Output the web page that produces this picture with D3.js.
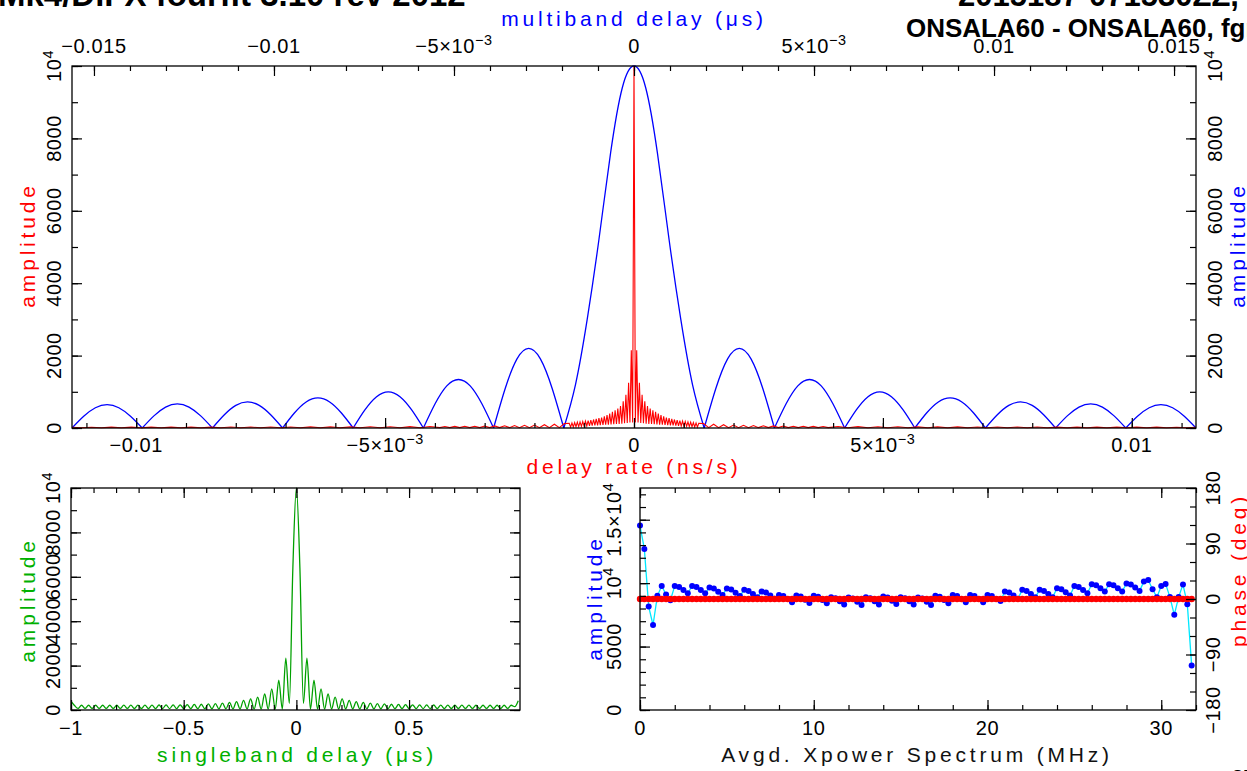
<!DOCTYPE html>
<html><head><meta charset="utf-8">
<script src="https://cdn.jsdelivr.net/npm/d3@7"></script>
<style>
body{margin:0;background:#fff;overflow:hidden}
svg{display:block}
text{font-family:"Liberation Sans",Arial,sans-serif}
</style></head><body>
<script>
// ---------------- DATA ----------------
// Top panel, blue: multiband delay (us) amplitude, lobes between nulls
const mbdNulls = [-0.01561,-0.01366,-0.01171,-0.00976,-0.00780,-0.00585,-0.00390,-0.00195,
                   0.00195,0.00390,0.00585,0.00780,0.00976,0.01171,0.01366,0.01561];
const mbdLobeAmp = [
 [0,325,560,645,560,325,0],
 [0,335,578,665,578,335,0],
 [0,360,625,720,625,360,0],
 [0,415,720,830,720,415,0],
 [0,500,865,1000,865,500,0],
 [0,670,1165,1340,1165,670,0],
 [0,1100,1910,2200,1910,1100,0],
 [0,1200,3000,5200,7600,9400,10000,9400,7600,5200,3000,1200,0],
 [0,1100,1910,2200,1910,1100,0],
 [0,670,1165,1340,1165,670,0],
 [0,500,865,1000,865,500,0],
 [0,415,720,830,720,415,0],
 [0,360,625,720,625,360,0],
 [0,335,578,665,578,335,0],
 [0,325,560,645,560,325,0]
];
// Top panel, red: delay rate (ns/s) amplitude, sampled segments
const rateFarLeft = [22,5,22,5,23,5,23,5,24,5,24,5,25,5,25,5,26,5,27,5,28,5,29,5,30,5,31,5,32,5,34,5,36,5,38,5,40];
const rateMidLeft = [10,42,10,44,10,46,10,49,10,53,10,57,10,61,10,67,10,74,10,82,10,92,10,105,10,120];
const rateInner = [130,25,140,30,150,35,160,40,170,45,180,50,190,55,205,60,220,65,235,70,250,75,270,80,290,85,320,90,360,95,400,100,450,105,490,110,540,115,610,120,740,130,920,140,1250,150,2150,150,
 10000,
 150,2150,150,1250,140,920,130,740,120,610,115,540,110,490,105,450,100,400,95,360,90,320,85,290,80,270,75,250,70,235,65,220,60,205,55,190,50,180,45,170,40,160,35,150,30,140,25,130];
const rateMidRight = [120,10,105,10,92,10,82,10,74,10,67,10,61,10,57,10,53,10,49,10,46,10,44,10,42,10];
const rateFarRight = [40,5,38,5,36,5,34,5,32,5,31,5,30,5,29,5,28,5,27,5,26,5,25,5,25,5,24,5,24,5,23,5,23,5,22,5,22];
const rateSegStart = [-0.0113,-0.0039,-0.0013008,0.0014,0.0041];
const rateSegStep  = [0.0002,0.0001,0.0000271,0.0001,0.0002];

// Bottom-left, green: singleband delay (us) amplitude, start -1 us, step 1/64 us
const sbdStart = -1, sbdStep = 0.015625;
const sbdAmp = [400,200,70,215,70,215,70,215,70,215,70,215,70,215,70,218,70,220,68,220,68,222,66,222,66,225,64,228,64,230,62,235,
 62,240,60,250,60,260,58,275,56,290,55,310,54,340,52,380,50,430,48,500,46,580,44,720,42,950,40,1350,40,2330,300,6400,
 10000,6400,300,2330,40,1350,40,950,42,720,44,580,46,500,48,430,50,380,52,340,54,310,55,290,56,275,58,260,60,250,60,240,
 62,235,62,230,64,228,64,225,66,222,66,222,68,220,68,220,70,218,70,215,70,215,70,215,70,215,70,215,70,215,150,420];

// Bottom-right: Avgd. Xpower spectrum, 128 channels, 0.25 MHz step
const chanStep = 0.25;
const xpAmp = [14540,12700,8150,6700, 9000,9780,9100,8650, 9780,9700,9460,9200, 9780,9700,9460,9200,
 9650,9570,9330,9070, 9570,9490,9250,8990, 9470,9390,9150,8890, 9340,9260,9020,8760,
 9070,8990,8750,8490, 9020,8940,8700,8440, 9000,8920,8680,8420, 8890,8810,8570,8310,
 8860,8780,8540,8280, 8890,8810,8570,8310, 8940,8860,8620,8360, 8890,8810,8570,8310,
 8860,8780,8540,8280, 9000,8920,8680,8420, 9070,8990,8750,8490, 9070,8990,8750,8490,
 9070,8990,8750,8600, 9340,9260,9020,8760, 9470,9390,9150,8890, 9470,9390,9150,8890,
 9600,9520,9280,9020, 9780,9700,9460,9200, 9920,9840,9600,9340, 9920,9840,9600,9340,
 9970,9890,9650,9390, 10120,10250,9520,8890, 9780,9940,8900,7500, 8900,9900,8340,3500];
const phaseDeg = [0,0,0,0,0,0,0,0,0,0,0,0,0,0,0,0,0,0,0,0,0,0,0,0,0,0,0,0,0,0,0,0,
 0,0,0,0,0,0,0,0,0,0,0,0,0,0,0,0,0,0,0,0,0,0,0,0,0,0,0,0,0,0,0,0,
 0,0,0,0,0,0,0,0,0,0,0,0,0,0,0,0,0,0,0,0,0,0,0,0,0,0,0,0,0,0,0,0,
 0,0,0,0,0,0,0,0,0,0,0,0,0,0,0,0,0,0,0,0,0,0,0,0,0,0,0,0,0,0,0,0];

// Ticks / labels
const rateTicks = [-0.01,-0.005,0,0.005,0.01];
const rateLabels = ["−0.01","−5×10^{−3}","0","5×10^{−3}","0.01"];
const mbdTicks = [-0.015,-0.01,-0.005,0,0.005,0.01,0.015];
const mbdLabels = ["−0.015","−0.01","−5×10^{−3}","0","5×10^{−3}","0.01","0.015"];
const ampTicks = [0,2000,4000,6000,8000,10000];
const ampLabels = ["0","2000","4000","6000","8000","10^{4}"];
const sbdTicks = [-1,-0.5,0,0.5];
const sbdLabels = ["−1","−0.5","0","0.5"];
const freqTicks = [0,10,20,30];
const freqLabels = ["0","10","20","30"];
const xpTicks = [0,5000,10000,15000];
const xpLabels = ["0","5000","10^{4}","1.5×10^{4}"];
const phaseTicks = [-180,-90,0,90,180];
const phaseLabels = ["−180","−90","0","90","180"];

// ---------------- DRAW ----------------
const W = 1247, H = 771;
const RED = "#ff0000", BLUE = "#0000ff", GREEN = "#00a000", CYAN = "#00e8ff";
const svg = d3.select("body").append("svg").attr("width", W).attr("height", H);

function addText(g, str, x, y, o = {}) {
  const size = o.size || 20;
  const t = g.append("text")
    .attr("transform", `translate(${x},${y})` + (o.rot ? ` rotate(${o.rot})` : ""))
    .attr("text-anchor", o.anchor || "middle")
    .attr("fill", o.color || "#000")
    .style("font-size", size + "px")
    .style("letter-spacing", (o.ls ?? 0.6) + "px")
    .style("font-weight", o.weight || "normal");
  const parts = str.split(/(\^\{[^}]*\})/);
  let shifted = 0;
  parts.forEach(p => {
    if (!p) return;
    const m = p.match(/^\^\{(.*)\}$/);
    if (m) {
      const d = -size * 0.42;
      t.append("tspan").attr("dy", d).style("font-size", (size * 0.72) + "px").text(m[1]);
      shifted += d;
    } else {
      const s = t.append("tspan").text(p);
      if (shifted) { s.attr("dy", -shifted); shifted = 0; }
    }
  });
  return t;
}

function ticks(axisGen, scale, vals, size, tx, ty) {
  svg.append("g").attr("transform", `translate(${tx},${ty})`)
    .call(axisGen(scale).tickValues(vals).tickSize(size).tickFormat(""))
    .call(a => { a.select(".domain").remove();
      a.selectAll("line").attr("stroke", "#000").attr("stroke-width", 1.2); });
}
function frame(x0, y0, x1, y1) {
  svg.append("rect").attr("x", x0).attr("y", y0).attr("width", x1 - x0).attr("height", y1 - y0)
    .attr("fill", "none").attr("stroke", "#000").attr("stroke-width", 1.3);
}
function clip(id, x0, y0, x1, y1) {
  svg.append("clipPath").attr("id", id).append("rect")
    .attr("x", x0).attr("y", y0 - 2).attr("width", x1 - x0).attr("height", y1 - y0 + 3);
}
const rng = (a, b, s) => d3.range(Math.round((b - a) / s) + 1).map(i => +(a + i * s).toFixed(6));

// ===== Top panel =====
const T = {l: 72, r: 1196, t: 66, b: 428};
const xRate = d3.scaleLinear([-0.01129, 0.01129], [T.l, T.r]);
const xMbd = d3.scaleLinear([-0.01561, 0.01561], [T.l, T.r]);
const yTop = d3.scaleLinear([0, 10000], [T.b, T.t]);
clip("cTop", T.l, T.t, T.r, T.b);

const gTop = svg.append("g").attr("clip-path", "url(#cTop)");
// blue lobes
mbdLobeAmp.forEach((lobe, i) => {
  const x0 = mbdNulls[i], x1 = mbdNulls[i + 1];
  const pts = lobe.map((a, k) => [x0 + (x1 - x0) * k / (lobe.length - 1), a]);
  gTop.append("path").attr("d", d3.line().x(d => xMbd(d[0])).y(d => yTop(d[1])).curve(d3.curveNatural)(pts))
    .attr("fill", "none").attr("stroke", BLUE).attr("stroke-width", 1.3);
});
// red delay-rate
const rateArrays = [rateFarLeft, rateMidLeft, rateInner, rateMidRight, rateFarRight];
const rateData = [];
rateArrays.forEach((arr, s) => arr.forEach((a, k) => rateData.push([rateSegStart[s] + k * rateSegStep[s], a])));
gTop.append("path").attr("d", d3.line().x(d => xRate(d[0])).y(d => yTop(d[1]))(rateData))
  .attr("fill", "none").attr("stroke", RED).attr("stroke-width", 1.1);

frame(T.l, T.t, T.r, T.b);
ticks(d3.axisBottom, xRate, rng(-0.011, 0.011, 0.001), -5, 0, T.b);
ticks(d3.axisBottom, xRate, rateTicks, -10, 0, T.b);
ticks(d3.axisTop, xMbd, rng(-0.015, 0.015, 0.001), -5, 0, T.t);
ticks(d3.axisTop, xMbd, mbdTicks, -10, 0, T.t);
ticks(d3.axisLeft, yTop, rng(0, 10000, 1000), -6, T.l, 0);
ticks(d3.axisLeft, yTop, ampTicks, -10, T.l, 0);
ticks(d3.axisRight, yTop, rng(0, 10000, 1000), -6, T.r, 0);
ticks(d3.axisRight, yTop, ampTicks, -10, T.r, 0);

rateTicks.forEach((v, i) => addText(svg, rateLabels[i], xRate(v), 452));
mbdTicks.forEach((v, i) => addText(svg, mbdLabels[i], xMbd(v), 53));
ampTicks.forEach((v, i) => {
  addText(svg, ampLabels[i], 61, yTop(v), {rot: -90});
  addText(svg, ampLabels[i], 1222, yTop(v), {rot: -90});
});
const LBL = {size: 21, ls: 3.8};
addText(svg, "amplitude", 35, 245, {...LBL, rot: -90, color: RED});
addText(svg, "amplitude", 1245, 245, {...LBL, rot: -90, color: BLUE});
addText(svg, "multiband delay (μs)", 634, 26, {...LBL, color: BLUE});
addText(svg, "delay rate (ns/s)", 634, 474, {...LBL, color: RED});

// ===== Bottom-left panel =====
const L = {l: 71, r: 520, t: 488, b: 710};
const xSbd = d3.scaleLinear([-1, 0.9922], [L.l, L.r]);
const ySbd = d3.scaleLinear([0, 10000], [L.b, L.t]);
clip("cBL", L.l, L.t, L.r, L.b);
svg.append("g").attr("clip-path", "url(#cBL)").append("path")
  .attr("d", d3.line().x((d, i) => xSbd(sbdStart + i * sbdStep)).y(d => ySbd(d)).curve(d3.curveMonotoneX)(sbdAmp))
  .attr("fill", "none").attr("stroke", GREEN).attr("stroke-width", 1.3);
frame(L.l, L.t, L.r, L.b);
ticks(d3.axisBottom, xSbd, rng(-1, 0.9, 0.1), -5, 0, L.b);
ticks(d3.axisBottom, xSbd, sbdTicks, -10, 0, L.b);
ticks(d3.axisTop, xSbd, rng(-1, 0.9, 0.1), -5, 0, L.t);
ticks(d3.axisTop, xSbd, sbdTicks, -10, 0, L.t);
ticks(d3.axisLeft, ySbd, rng(0, 10000, 1000), -6, L.l, 0);
ticks(d3.axisLeft, ySbd, ampTicks, -10, L.l, 0);
ticks(d3.axisRight, ySbd, rng(0, 10000, 1000), -6, L.r, 0);
ticks(d3.axisRight, ySbd, ampTicks, -10, L.r, 0);
sbdTicks.forEach((v, i) => addText(svg, sbdLabels[i], xSbd(v), 735));
ampTicks.forEach((v, i) => addText(svg, ampLabels[i], 60, ySbd(v), {rot: -90}));
addText(svg, "amplitude", 35, 600, {...LBL, rot: -90, color: "#00b000"});
addText(svg, "singleband delay (μs)", 297, 762, {...LBL, color: "#00b000"});

// ===== Bottom-right panel =====
const R = {l: 640, r: 1196, t: 488, b: 710};
const xFreq = d3.scaleLinear([0, 32], [R.l, R.r]);
const yAmp = d3.scaleLinear([0, 17500], [R.b, R.t]);
const yPh = d3.scaleLinear([-180, 180], [R.b, R.t]);
clip("cBR", R.l - 4, R.t, R.r + 4, R.b);
const gBR = svg.append("g").attr("clip-path", "url(#cBR)");
gBR.append("path").attr("d", d3.line().x((d, i) => xFreq(i * chanStep)).y(d => yAmp(d))(xpAmp))
  .attr("fill", "none").attr("stroke", CYAN).attr("stroke-width", 1.3);
gBR.selectAll("circle.amp").data(xpAmp).join("circle").attr("class", "amp")
  .attr("cx", (d, i) => xFreq(i * chanStep)).attr("cy", d => yAmp(d)).attr("r", 3).attr("fill", BLUE);
gBR.append("path").attr("d", d3.line().x((d, i) => xFreq(i * chanStep)).y(d => yPh(d))(phaseDeg))
  .attr("fill", "none").attr("stroke", RED).attr("stroke-width", 2);
gBR.selectAll("circle.ph").data(phaseDeg).join("circle").attr("class", "ph")
  .attr("cx", (d, i) => xFreq(i * chanStep)).attr("cy", d => yPh(d)).attr("r", 3.2).attr("fill", RED);
frame(R.l, R.t, R.r, R.b);
ticks(d3.axisBottom, xFreq, rng(0, 32, 2), -5, 0, R.b);
ticks(d3.axisBottom, xFreq, freqTicks, -10, 0, R.b);
ticks(d3.axisTop, xFreq, rng(0, 32, 2), -5, 0, R.t);
ticks(d3.axisTop, xFreq, freqTicks, -10, 0, R.t);
ticks(d3.axisLeft, yAmp, rng(0, 17000, 1000), -6, R.l, 0);
ticks(d3.axisLeft, yAmp, xpTicks, -10, R.l, 0);
ticks(d3.axisRight, yPh, rng(-180, 180, 30), -6, R.r, 0);
ticks(d3.axisRight, yPh, phaseTicks, -10, R.r, 0);
freqTicks.forEach((v, i) => addText(svg, freqLabels[i], xFreq(v), 735));
xpTicks.forEach((v, i) => addText(svg, xpLabels[i], 621, yAmp(v), {rot: -90}));
phaseTicks.forEach((v, i) => addText(svg, phaseLabels[i], 1220, yPh(v), {rot: -90}));
addText(svg, "amplitude", 602, 598, {...LBL, rot: -90, color: BLUE});
addText(svg, "phase (deg)", 1246, 570, {...LBL, rot: -90, color: RED});
addText(svg, "Avgd. Xpower Spectrum (MHz)", 917, 762, {...LBL, color: "#111"});

// ===== Titles (partially clipped by the page edge) =====
addText(svg, "Mk4/DiFX fourfit 3.10 rev 2012", -2, 6, {size: 33, ls: 0, weight: "bold", anchor: "start"});
addText(svg, "2015187-071530ZZ, No0001", 958, 6, {size: 31, ls: 0, weight: "bold", anchor: "start"});
addText(svg, "ONSALA60 - ONSALA60, fgroup X, pol LL", 906, 37, {size: 26, ls: 0, weight: "bold", anchor: "start"});
addText(svg, "2D", 1232, 784, {size: 20, ls: 0, weight: "bold", anchor: "start"});
</script>
</body></html>
